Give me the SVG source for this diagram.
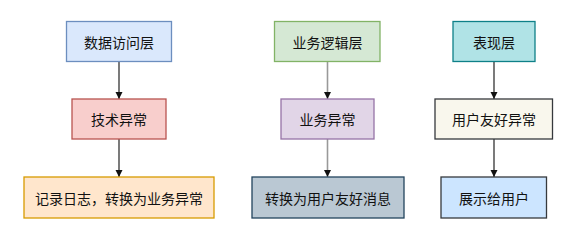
<svg xmlns="http://www.w3.org/2000/svg" width="575" height="241" viewBox="0 0 575 241">
<defs>
<style>
rect{stroke-width:1.3}
text{font-family:"Noto Sans CJK SC","Liberation Sans",sans-serif;font-size:14px;fill:#111;text-anchor:middle;dominant-baseline:central}
.c{stroke:#222;stroke-width:1.2;fill:none}
.g{stroke:#999;stroke-width:1.6;fill:none}
</style>
<marker id="ah" markerWidth="8" markerHeight="8" refX="7" refY="4" orient="auto" markerUnits="userSpaceOnUse">
<path d="M0,0.5 L7,4 L0,7.5 Z" fill="#111"/>
</marker>
</defs>
<rect width="575" height="241" fill="#fff"/>
<g id="connectors">
<line class="c" x1="119" y1="62" x2="119" y2="99" marker-end="url(#ah)"/>
<line class="c" x1="119" y1="139" x2="119" y2="177" marker-end="url(#ah)"/>
<line class="g" x1="327.5" y1="62" x2="327.5" y2="99" marker-end="url(#ah)"/>
<line class="g" x1="327.5" y1="139" x2="327.5" y2="177" marker-end="url(#ah)"/>
<line class="c" x1="494" y1="62" x2="494" y2="99" marker-end="url(#ah)"/>
<line class="c" x1="494" y1="139" x2="494" y2="177" marker-end="url(#ah)"/>
</g>
<g id="n1"><rect x="66.5" y="21.5" width="105" height="40" fill="#dae8fc" stroke="#6c8ebf"/><text x="119" y="42">数据访问层</text></g>
<g id="n2"><rect x="72" y="99" width="94" height="40" fill="#f8cecc" stroke="#b85450"/><text x="119" y="119">技术异常</text></g>
<g id="n3"><rect x="24" y="177" width="190" height="41" fill="#ffe6cc" stroke="#d79b00"/><text x="119" y="197.5">记录日志，转换为业务异常</text></g>
<g id="n4"><rect x="274.5" y="21.5" width="105.5" height="40" fill="#d5e8d4" stroke="#82b366"/><text x="327.5" y="42">业务逻辑层</text></g>
<g id="n5"><rect x="281" y="99" width="93" height="40" fill="#e1d5e7" stroke="#9673a6"/><text x="327.5" y="119">业务异常</text></g>
<g id="n6"><rect x="252" y="177" width="152" height="41" fill="#bac8d3" stroke="#23445d"/><text x="328" y="197.5">转换为用户友好消息</text></g>
<g id="n7"><rect x="453" y="21.5" width="82" height="40" fill="#b0e3e6" stroke="#0e8088"/><text x="494" y="42">表现层</text></g>
<g id="n8"><rect x="435" y="99" width="117.5" height="40" fill="#f9f7ed" stroke="#36393d"/><text x="494" y="119">用户友好异常</text></g>
<g id="n9"><rect x="441" y="177" width="105.5" height="41" fill="#cce5ff" stroke="#36393d"/><text x="494" y="197.5">展示给用户</text></g>
</svg>
